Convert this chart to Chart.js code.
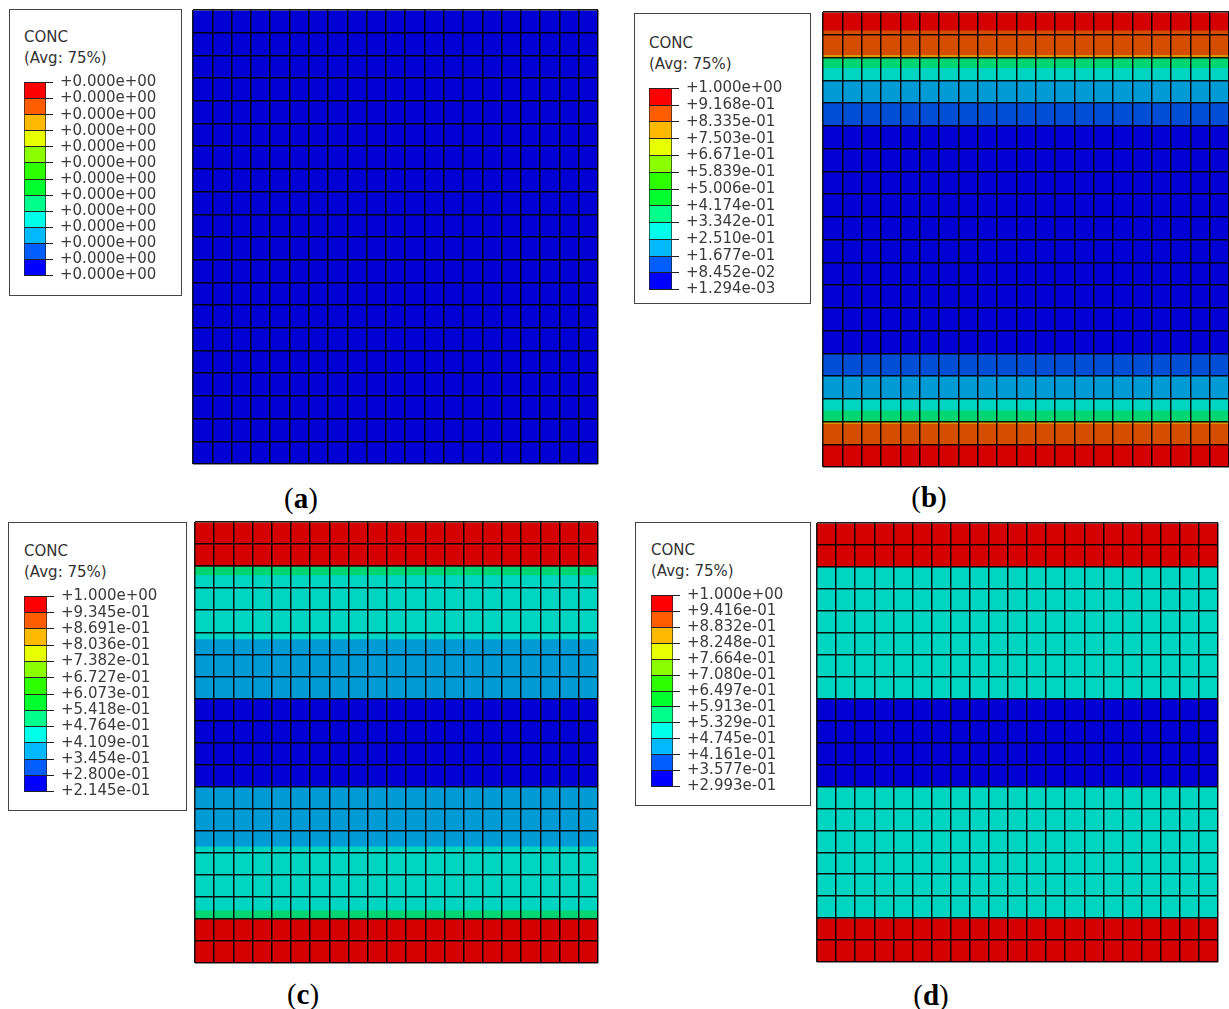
<!DOCTYPE html>
<html>
<head>
<meta charset="utf-8">
<title>CONC contour plots</title>
<script src="https://cdn.jsdelivr.net/npm/chart.js@4.4.1/dist/chart.umd.min.js"></script>
<style>
  body { margin: 0; width: 1229px; height: 1009px; position: relative; overflow: hidden; background: #fff; font-family: 'DejaVu Sans', sans-serif; }
  .box { position: absolute; box-sizing: border-box; border: 1px solid #444; background: #fff; }
  .txt { position: absolute; font-size: 15px; line-height: 15px; color: #333; white-space: nowrap; }
  .cap { position: absolute; font-family: 'Liberation Serif', serif; font-size: 29px; line-height: 29px; color: #000; transform: translate(-50%, -50%); white-space: nowrap; }
  canvas { position: absolute; }
</style>
</head>
<body>
<script>
// --- data ---

// mesh size (elements)
const meshCols = 20;
const meshRows = 20;

// Abaqus spectrum, level 0 (lowest, blue) .. level 11 (highest, red)
const levelColors = ['#0000FF', '#005DFF', '#00B9FF', '#00FFE8', '#00FF8B', '#00FF2E',
                     '#2EFF00', '#8BFF00', '#E8FF00', '#FFB900', '#FF5D00', '#FF0000'];

// legend labels, top to bottom
const legendLabelsA = ['+0.000e+00', '+0.000e+00', '+0.000e+00', '+0.000e+00', '+0.000e+00', '+0.000e+00', '+0.000e+00',
                       '+0.000e+00', '+0.000e+00', '+0.000e+00', '+0.000e+00', '+0.000e+00', '+0.000e+00'];
const legendLabelsB = ['+1.000e+00', '+9.168e-01', '+8.335e-01', '+7.503e-01', '+6.671e-01', '+5.839e-01', '+5.006e-01',
                       '+4.174e-01', '+3.342e-01', '+2.510e-01', '+1.677e-01', '+8.452e-02', '+1.294e-03'];
const legendLabelsC = ['+1.000e+00', '+9.345e-01', '+8.691e-01', '+8.036e-01', '+7.382e-01', '+6.727e-01', '+6.073e-01',
                       '+5.418e-01', '+4.764e-01', '+4.109e-01', '+3.454e-01', '+2.800e-01', '+2.145e-01'];
const legendLabelsD = ['+1.000e+00', '+9.416e-01', '+8.832e-01', '+8.248e-01', '+7.664e-01', '+7.080e-01', '+6.497e-01',
                       '+5.913e-01', '+5.329e-01', '+4.745e-01', '+4.161e-01', '+3.577e-01', '+2.993e-01'];

// contour bands: edges in element rows from the top, and the level of each band
const bandEdgesA = [0, 20];
const bandLevelsA = [0];
const bandEdgesB = [0, 0.8, 1.88, 2, 2.45, 3, 4, 5, 15, 16, 17, 17.5, 18, 18.1, 19, 20];
const bandLevelsB = [11, 10, 9, 4, 3, 2, 1, 0, 1, 2, 3, 4, 9, 10, 11];
const bandEdgesC = [0, 2, 2.4, 5.3, 8, 12, 14.7, 17.6, 18, 20];
const bandLevelsC = [11, 4, 3, 2, 0, 2, 3, 4, 11];
const bandEdgesD = [0, 2, 8, 12, 18, 20];
const bandLevelsD = [11, 3, 0, 3, 11];

const captionLetters = ['a', 'b', 'c', 'd'];
const legendTitle = 'CONC';
const legendSubtitle = '(Avg: 75%)';

// --- layout (page pixels) ---
const panels = [
  { edges: bandEdgesA, levels: bandLevelsA, labels: legendLabelsA,
    mesh: { x: 193, y: 10, w: 405, h: 454 }, box: { x: 9, y: 9, w: 173, h: 287 },
    bar: { x: 24, y: 80, w: 22, h: 198 }, cap: { x: 301, y: 498 } },
  { edges: bandEdgesB, levels: bandLevelsB, labels: legendLabelsB,
    mesh: { x: 823, y: 12, w: 406, h: 455 }, box: { x: 634, y: 13, w: 177, h: 291 },
    bar: { x: 649, y: 86, w: 23, h: 206 }, cap: { x: 929, y: 497 } },
  { edges: bandEdgesC, levels: bandLevelsC, labels: legendLabelsC,
    mesh: { x: 195, y: 522, w: 403, h: 441 }, box: { x: 8, y: 522, w: 179, h: 289 },
    bar: { x: 24, y: 594, w: 23, h: 200 }, cap: { x: 303, y: 994 } },
  { edges: bandEdgesD, levels: bandLevelsD, labels: legendLabelsD,
    mesh: { x: 817, y: 523, w: 401, h: 439 }, box: { x: 635, y: 522, w: 176, h: 284 },
    bar: { x: 651, y: 593, w: 22, h: 196 }, cap: { x: 931, y: 995 } },
];

// mesh colours are the spectrum with Abaqus' flat shading (darker)
function meshColor(level) {
  const hex = levelColors[level];
  const k = 0.835;
  const r = Math.round(parseInt(hex.slice(1, 3), 16) * k);
  const g = Math.round(parseInt(hex.slice(3, 5), 16) * k);
  const b = Math.round(parseInt(hex.slice(5, 7), 16) * k);
  return `rgb(${r},${g},${b})`;
}

Chart.defaults.animation = false;
Chart.defaults.responsive = false;
Chart.defaults.events = [];
Chart.defaults.plugins.legend.display = false;
Chart.defaults.plugins.tooltip.enabled = false;

function addCanvas(x, y, w, h) {
  const c = document.createElement('canvas');
  c.width = w;
  c.height = h;
  c.style.left = x + 'px';
  c.style.top = y + 'px';
  c.style.width = w + 'px';
  c.style.height = h + 'px';
  document.body.appendChild(c);
  return c;
}

function addDiv(cls, x, y, w, h, html) {
  const d = document.createElement('div');
  d.className = cls;
  d.style.left = x + 'px';
  d.style.top = y + 'px';
  if (w) d.style.width = w + 'px';
  if (h) d.style.height = h + 'px';
  if (html) d.innerHTML = html;
  document.body.appendChild(d);
  return d;
}

const meshLine = { color: 'rgba(0,0,0,0.9)', lineWidth: 1.5, drawTicks: false, z: 1 };

function drawMesh(p) {
  const m = p.mesh;
  const pad = 1;
  const canvas = addCanvas(m.x - pad, m.y - pad, m.w + 2 * pad, m.h + 2 * pad);
  new Chart(canvas, {
    type: 'bar',
    data: {
      labels: ['mesh'],
      datasets: p.levels.map((lv, i) => ({
        data: [[p.edges[i], p.edges[i + 1]]],
        xAxisID: 'x',
        yAxisID: 'y',
        backgroundColor: meshColor(lv),
        borderWidth: 0,
        grouped: false,
        barPercentage: 1,
        categoryPercentage: 1,
      })),
    },
    options: {
      layout: { padding: pad },
      scales: {
        x: { display: false },
        y: {
          min: 0, max: meshRows, reverse: true,
          ticks: { display: false, stepSize: 1, maxTicksLimit: 100 },
          grid: meshLine,
          border: { display: false },
        },
        cols: {
          type: 'linear', position: 'bottom', min: 0, max: meshCols,
          ticks: { display: false, stepSize: 1, maxTicksLimit: 100 },
          grid: meshLine,
          border: { display: false },
        },
      },
    },
  });
}

function drawLegend(p) {
  const bx = p.box;
  addDiv('box', bx.x, bx.y, bx.w, bx.h);
  const b = p.bar;
  addDiv('txt', b.x, b.y - 50, 0, 0, legendTitle);
  addDiv('txt', b.x, b.y - 29, 0, 0, legendSubtitle);

  const pad = 12;
  const axisW = 118;
  const n = levelColors.length;
  const canvas = addCanvas(b.x, b.y - pad, b.w + axisW, b.h + 2 * pad);
  new Chart(canvas, {
    type: 'bar',
    data: {
      labels: ['key'],
      datasets: levelColors.map((c, i) => ({
        data: [[i, i + 1]],
        backgroundColor: c,
        borderColor: '#222',
        borderWidth: { left: 1, right: 1, top: 0, bottom: 0 },
        borderSkipped: false,
        grouped: false,
        barPercentage: 1,
        categoryPercentage: 1,
      })),
    },
    options: {
      layout: { padding: { top: pad, bottom: pad, left: 0, right: 0 } },
      scales: {
        x: { display: false },
        y: {
          position: 'right',
          min: 0, max: n,
          afterFit: (s) => { s.width = axisW; },
          ticks: {
            stepSize: 1, maxTicksLimit: 100, autoSkip: false, padding: 7,
            color: '#3a3a3a',
            font: { family: 'DejaVu Sans', size: 15, lineHeight: 1 },
            callback: (v) => p.labels[n - v],
          },
          grid: { color: '#222', lineWidth: 1, tickLength: 7, z: 1 },
          border: { display: false },
        },
      },
    },
  });
}

panels.forEach((p, i) => {
  drawMesh(p);
  drawLegend(p);
  addDiv('cap', p.cap.x, p.cap.y, 0, 0, '(<b>' + captionLetters[i] + '</b>)');
});
</script>
</body>
</html>
